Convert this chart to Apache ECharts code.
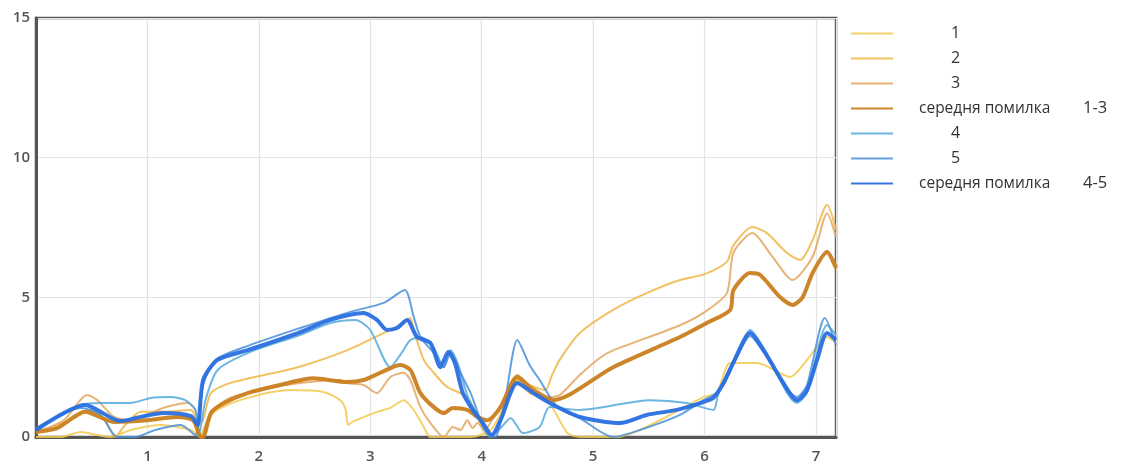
<!DOCTYPE html>
<html>
<head>
<meta charset="utf-8">
<script src="https://cdn.jsdelivr.net/npm/echarts@6/dist/echarts.min.js"></script>
<style>
html,body{margin:0;padding:0;background:#fff;}
#chart{width:1125px;height:468px;}
</style>
</head>
<body>
<div id="chart"></div>
<script>
// ---- data (x, y) ----
const seriesNames = ['1', '2', '3', 'середня помилка 1-3', '4', '5', 'середня помилка 4-5'];
const yTicks = [0, 5, 10, 15];
const xTicks = [1, 2, 3, 4, 5, 6, 7];

const s1 = [[0,0],[0.22,0],[0.40,0.18],[0.55,0.07],[0.67,0],[0.85,0.25],[1.12,0.43],[1.39,0.25],[1.48,0],
  [1.59,0.86],[1.83,1.32],[2.28,1.68],[2.58,1.61],[2.73,1.32],[2.78,0.97],[2.80,0.43],[2.84,0.54],[3.06,0.9],
  [3.18,1.04],[3.30,1.32],[3.39,0.97],[3.48,0.36],[3.54,0],[3.90,0],[4.08,0.25],[4.21,1.15],[4.32,2.04],
  [4.43,1.57],[4.59,1.32],[4.77,0.14],[4.88,0],[5.22,0],[5.60,0.6],[5.99,1.43],[6.11,1.57],[6.23,2.65],
  [6.47,2.65],[6.77,2.15],[6.92,2.76],[7.10,3.58],[7.18,3.36]];

const s2 = [[0,0.14],[0.31,0.6],[0.49,0.97],[0.62,0.6],[0.71,0],[0.80,0.43],[0.94,0.9],[1.14,0.9],[1.39,0.97],
  [1.46,0.43],[1.50,0.6],[1.57,1.57],[1.74,1.93],[2.35,2.5],[2.79,3.1],[3.12,3.72],[3.27,4.0],[3.36,4.26],
  [3.39,3.83],[3.48,2.76],[3.57,2.3],[3.69,1.79],[3.87,1.43],[3.96,0.72],[4.05,0.07],[4.12,0.14],[4.21,0.97],
  [4.32,2.04],[4.43,1.86],[4.57,1.68],[4.63,2.2],[4.70,2.76],[4.88,3.72],[5.18,4.55],[5.48,5.15],[5.78,5.62],
  [6.00,5.83],[6.20,6.27],[6.26,6.87],[6.43,7.52],[6.56,7.3],[6.74,6.59],[6.86,6.34],[6.97,7.05],[7.10,8.31],[7.18,7.41]];

const s3 = [[0,0.18],[0.25,0.6],[0.46,1.5],[0.55,1.32],[0.70,0.72],[0.85,0.6],[1.14,1.04],[1.36,1.22],[1.43,0.97],
  [1.48,0],[1.52,0.43],[1.59,0.97],[1.74,1.4],[2.01,1.68],[2.37,1.93],[2.73,2.04],[2.79,1.93],[2.94,1.86],
  [3.06,1.57],[3.18,2.15],[3.30,2.3],[3.36,2.04],[3.45,1.07],[3.54,0.5],[3.66,0],[3.74,0.36],[3.81,0.25],
  [3.87,0.6],[3.92,0.32],[3.96,0.5],[4.03,0.25],[4.09,0.6],[4.17,1.15],[4.32,2.22],[4.43,1.86],[4.61,1.43],
  [4.70,1.5],[4.88,2.22],[5.06,2.83],[5.18,3.1],[5.78,4.0],[6.00,4.47],[6.20,5.15],[6.26,6.6],[6.43,7.3],
  [6.61,6.45],[6.79,5.62],[6.97,6.45],[7.10,8.0],[7.18,7.16]];

const mean13 = [[0,0.18],[0.19,0.32],[0.44,0.9],[0.70,0.54],[1.00,0.6],[1.27,0.72],[1.41,0.6],[1.48,0],[1.50,0],
  [1.57,0.86],[1.68,1.2],[1.90,1.57],[2.19,1.86],[2.49,2.1],[2.79,1.97],[2.94,2.04],[3.09,2.3],[3.27,2.58],
  [3.36,2.4],[3.45,1.57],[3.57,1.07],[3.66,0.86],[3.74,1.04],[3.87,0.97],[3.96,0.72],[4.05,0.6],[4.17,1.07],
  [4.32,2.15],[4.46,1.68],[4.64,1.32],[5.18,2.5],[5.78,3.58],[6.02,4.08],[6.23,4.55],[6.26,5.26],[6.41,5.87],
  [6.50,5.8],[6.68,5.0],[6.79,4.73],[6.88,5.0],[6.97,5.87],[7.10,6.62],[7.18,6.05]];

const s4 = [[0,0.32],[0.40,1.15],[0.58,1.22],[0.85,1.22],[1.03,1.4],[1.21,1.43],[1.34,1.32],[1.43,0.97],[1.46,0],
  [1.52,1.3],[1.63,2.4],[1.92,3.04],[2.37,3.65],[2.64,4.08],[2.87,4.19],[3.00,3.83],[3.18,2.5],[3.27,2.94],
  [3.36,3.47],[3.45,3.58],[3.57,3.19],[3.66,2.5],[3.72,3.11],[3.79,2.58],[3.87,1.5],[3.96,0.79],[4.08,0],
  [4.17,0.32],[4.26,0.68],[4.37,0.14],[4.52,0.36],[4.61,1.07],[4.88,0.97],[5.51,1.32],[5.84,1.22],[6.08,0.97],
  [6.12,1.5],[6.27,2.83],[6.41,3.83],[6.54,3.11],[6.83,1.22],[6.92,1.58],[7.10,4.01],[7.18,3.65]];

const s5 = [[0,0.25],[0.40,1.04],[0.58,0.79],[0.73,0],[0.89,0],[1.07,0.25],[1.30,0.43],[1.43,0.07],[1.50,1.86],
  [1.61,2.76],[1.92,3.29],[2.37,3.9],[2.82,4.48],[3.12,4.8],[3.31,5.26],[3.39,4.3],[3.45,3.58],[3.57,3.01],
  [3.66,2.5],[3.72,3.04],[3.81,2.29],[3.90,1.58],[3.99,0.61],[4.05,0.14],[4.12,0],[4.21,1.32],[4.32,3.47],
  [4.43,2.58],[4.52,2.04],[4.68,1.07],[4.88,0.68],[5.18,0],[5.42,0.25],[5.78,0.79],[5.99,1.32],[6.08,1.5],
  [6.17,1.86],[6.27,2.68],[6.41,3.62],[6.53,3.04],[6.83,1.43],[6.92,1.86],[7.08,4.26],[7.18,3.29]];

const mean45 = [[0,0.25],[0.44,1.15],[0.76,0.57],[0.94,0.72],[1.14,0.86],[1.39,0.75],[1.45,0.43],[1.50,2.04],
  [1.63,2.76],[1.90,3.11],[2.35,3.72],[2.64,4.19],[2.94,4.44],[3.06,4.19],[3.15,3.83],[3.24,3.9],[3.33,4.19],
  [3.42,3.58],[3.54,3.37],[3.63,2.5],[3.70,3.04],[3.76,2.65],[3.83,1.58],[3.92,0.97],[4.01,0.5],[4.09,0.07],
  [4.17,0.61],[4.32,1.93],[4.46,1.58],[4.61,1.22],[4.88,0.72],[5.24,0.5],[5.48,0.79],[5.75,0.97],[5.99,1.25],
  [6.08,1.4],[6.17,1.93],[6.27,2.76],[6.41,3.72],[6.53,3.11],[6.68,2.11],[6.83,1.32],[6.92,1.68],[7.01,2.76],
  [7.10,3.72],[7.18,3.47]];

const seriesData = [s1, s2, s3, mean13, s4, s5, mean45];
const colors = ['#f3c94f', '#efb646', '#e4a65e', '#c97f1e', '#52a9dc', '#4a8fdc', '#2a6fe0'];
const widths = [2, 2, 2, 4, 2, 2, 4];

const chart = echarts.init(document.getElementById('chart'));
const font = 'Open Sans';

chart.setOption({
  animation: false,
  backgroundColor: '#fff',
  grid: { left: 36, right: 289, top: 18, bottom: 31, show: true, borderColor: '#555', borderWidth: 2.5, backgroundColor: 'transparent' },
  xAxis: {
    type: 'value', min: 0, max: 7.18, interval: 1,
    axisLine: { show: true, lineStyle: { color: '#555', width: 3 } },
    axisTick: { show: false },
    splitLine: { show: true, lineStyle: { color: '#e3e3e3', width: 1.2 } },
    axisLabel: {
      margin: 12, color: '#555', fontSize: 15, fontFamily: font, fontWeight: 600,
      formatter: v => (xTicks.indexOf(v) >= 0 ? String(v) : '')
    }
  },
  yAxis: {
    type: 'value', min: 0, max: 15, interval: 5,
    axisLine: { show: true, lineStyle: { color: '#555', width: 3 } },
    axisTick: { show: false },
    splitLine: { show: true, lineStyle: { color: '#e3e3e3', width: 1.2 } },
    axisLabel: {
      margin: 6, color: '#555', fontSize: 15, fontFamily: font, fontWeight: 600,
      formatter: v => (yTicks.indexOf(v) >= 0 ? String(v) : '')
    }
  },
  legend: {
    orient: 'vertical', left: 845, top: 19,
    itemWidth: 42, itemHeight: 12, itemGap: 6,
    itemStyle: { opacity: 0 },
    data: seriesNames,
    textStyle: {
      fontFamily: font, color: '#333', lineHeight: 19,
      rich: {
        n: { fontSize: 16, width: 115, align: 'center', color: '#333', fontFamily: font },
        sp: { width: 21 },
        a: { fontSize: 15.5, width: 164, color: '#333', fontFamily: font },
        b: { fontSize: 16.5, color: '#333', fontFamily: font }
      }
    },
    formatter: name => {
      if (name.indexOf('середня помилка') === 0) {
        const tail = name.split(' ').pop();
        return '{sp|}{a|середня помилка}{b|' + tail + '}';
      }
      return '{n|' + name + '}';
    }
  },
  series: seriesData.map((d, i) => ({
    name: seriesNames[i],
    type: 'line',
    data: d,
    showSymbol: false,
    symbol: 'none',
    smooth: 0.25,
    color: colors[i],
    lineStyle: { color: colors[i], width: widths[i], opacity: widths[i] > 2 ? 0.95 : 0.85 },
    z: widths[i] > 2 ? 3 : 2
  }))
});
</script>
</body>
</html>
